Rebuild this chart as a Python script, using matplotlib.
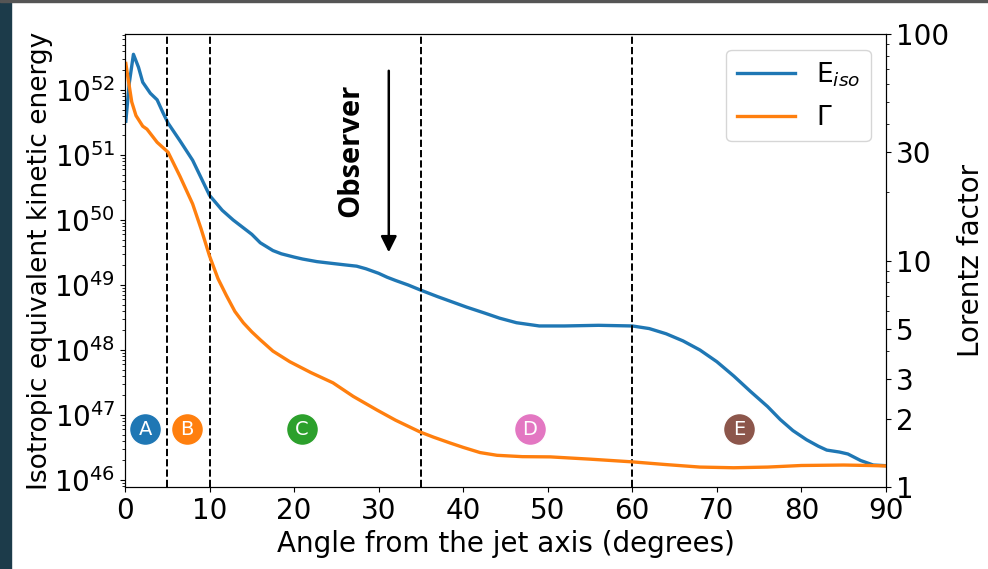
"""Isotropic kinetic energy and Lorentz factor vs angle from the jet axis."""
import matplotlib

matplotlib.use("Agg")
import matplotlib.pyplot as plt
import numpy as np
from matplotlib.patches import Rectangle
from matplotlib.ticker import NullFormatter

# E_iso profile: angle (deg) and log10(E_iso / erg)
eiso_theta = [0.1, 0.5, 1.0, 1.6, 2.1, 3.0, 3.8, 4.5, 5.1, 6.5, 8.0, 9.0, 10.0,
              11.5, 12.8, 14.0, 15.0, 16.0, 17.5, 18.5, 20.0, 21.0, 22.7, 24.0,
              26.0, 27.4, 28.5, 30.0, 31.0, 32.0, 33.5, 35.0, 37.0, 40.4, 42.5,
              44.3, 46.3, 49.0, 52.0, 56.0, 60.0, 62.0, 64.0, 66.0, 68.0, 70.0,
              72.0, 74.0, 76.0, 77.5, 79.0, 80.6, 82.0, 83.0, 84.5, 85.5, 87.0,
              88.5, 90.0]
eiso_log = [51.52, 52.10, 52.55, 52.35, 52.12, 51.95, 51.85, 51.65, 51.49,
            51.22, 50.92, 50.65, 50.38, 50.15, 50.00, 49.88, 49.78, 49.65,
            49.53, 49.48, 49.43, 49.40, 49.36, 49.34, 49.31, 49.29, 49.25,
            49.18, 49.12, 49.07, 49.00, 48.92, 48.82, 48.66, 48.57, 48.49,
            48.42, 48.37, 48.37, 48.38, 48.37, 48.33, 48.25, 48.14, 48.00,
            47.82, 47.60, 47.36, 47.13, 46.93, 46.76, 46.62, 46.52, 46.46,
            46.43, 46.40, 46.30, 46.23, 46.22]

# Lorentz factor profile: angle (deg) and log10(Gamma)
gamma_theta = [0.1, 0.3, 0.8, 1.3, 2.1, 2.6, 3.8, 5.1, 6.5, 8.0, 9.0, 10.0, 11.0,
               12.0, 13.0, 14.0, 15.0, 16.0, 17.5, 19.5, 22.0, 24.6, 27.0, 29.8,
               32.0, 34.9, 36.5, 38.4, 40.0, 42.0, 44.0, 47.0, 50.3, 55.0, 60.0,
               64.0, 68.0, 72.0, 76.0, 80.0, 85.0, 88.0, 90.0]
gamma_log = [1.87, 1.82, 1.70, 1.64, 1.593, 1.58, 1.522, 1.478, 1.372, 1.25,
             1.14, 1.02, 0.92, 0.845, 0.775, 0.725, 0.685, 0.65, 0.60, 0.553,
             0.505, 0.46, 0.40, 0.34, 0.295, 0.243, 0.22, 0.195, 0.175, 0.152,
             0.140, 0.134, 0.133, 0.123, 0.111, 0.099, 0.088, 0.085, 0.088,
             0.095, 0.097, 0.095, 0.093]

region_edges = [5, 10, 35, 60]
region_labels = ["A", "B", "C", "D", "E"]
region_x = [2.4, 7.3, 20.9, 47.9, 72.6]
region_colors = ["#1f77b4", "#ff7f0e", "#2ca02c", "#e377c2", "#8c564b"]

gamma_ticks = [1, 2, 3, 5, 10, 30, 100]

plt.rcParams["font.size"] = 20

fig = plt.figure(figsize=(9.88, 5.69), dpi=100)
# dark photo border round the original slide
fig.patches.append(Rectangle((0, 0), 11 / 988, 1, transform=fig.transFigure,
                             color="#1c3b4a", zorder=0))
fig.patches.append(Rectangle((0, 1 - 2 / 569), 1, 2 / 569, transform=fig.transFigure,
                             color="#555555", zorder=0))
ax = fig.add_axes([0.1265, 0.1441, 0.7702, 0.7961])
ax2 = ax.twinx()

l1, = ax.plot(eiso_theta, 10 ** np.array(eiso_log), color="#1f77b4", lw=2.4,
              label="E$_{iso}$", solid_joinstyle="round")
l2, = ax2.plot(gamma_theta, 10 ** np.array(gamma_log), color="#ff7f0e", lw=2.4,
               label="Γ", solid_joinstyle="round")

ax.set_yscale("log")
ax.set_ylim(10 ** 45.892, 10 ** 52.862)
ax.set_yticks([10.0 ** k for k in range(46, 53)])
ax.yaxis.set_minor_formatter(NullFormatter())
ax.set_xlim(0, 90)
ax.set_xticks(range(0, 91, 10))

ax2.set_yscale("log")
ax2.set_ylim(1, 100)
ax2.set_yticks(gamma_ticks)
ax2.set_yticklabels([str(t) for t in gamma_ticks])
ax2.yaxis.set_minor_formatter(NullFormatter())

for e in region_edges:
    ax.axvline(e, color="black", ls="--", lw=1.4)

y_circ = 10 ** 46.78
for lab, xc, col in zip(region_labels, region_x, region_colors):
    ax.plot(xc, y_circ, "o", ms=23, color=col, mec="white", mew=1.0, zorder=5)
    ax.text(xc, y_circ, lab, color="white", ha="center", va="center",
            fontsize=14, zorder=6)

ax.annotate("", xy=(31.2, 0.512), xytext=(31.2, 0.925),
            xycoords=("data", "axes fraction"),
            arrowprops=dict(arrowstyle="-|>", color="black", lw=1.8,
                            mutation_scale=24))
ax.text(26.7, 0.744, "Observer", rotation=90, ha="center", va="center",
        fontsize=21, fontweight="bold", family=["Open Sans", "DejaVu Sans"],
        transform=ax.get_xaxis_transform())

ax.set_xlabel("Angle from the jet axis (degrees)", labelpad=4)
ax.set_ylabel("Isotropic equivalent kinetic energy", fontsize=19, labelpad=1)
ax2.set_ylabel("Lorentz factor", labelpad=6)

ax.legend(handles=[l1, l2], loc="upper right", fontsize=19, handlelength=2.2,
          labelspacing=0.6, borderaxespad=0, bbox_to_anchor=(0.98, 0.965))

fig.savefig("out.png", dpi=100)
